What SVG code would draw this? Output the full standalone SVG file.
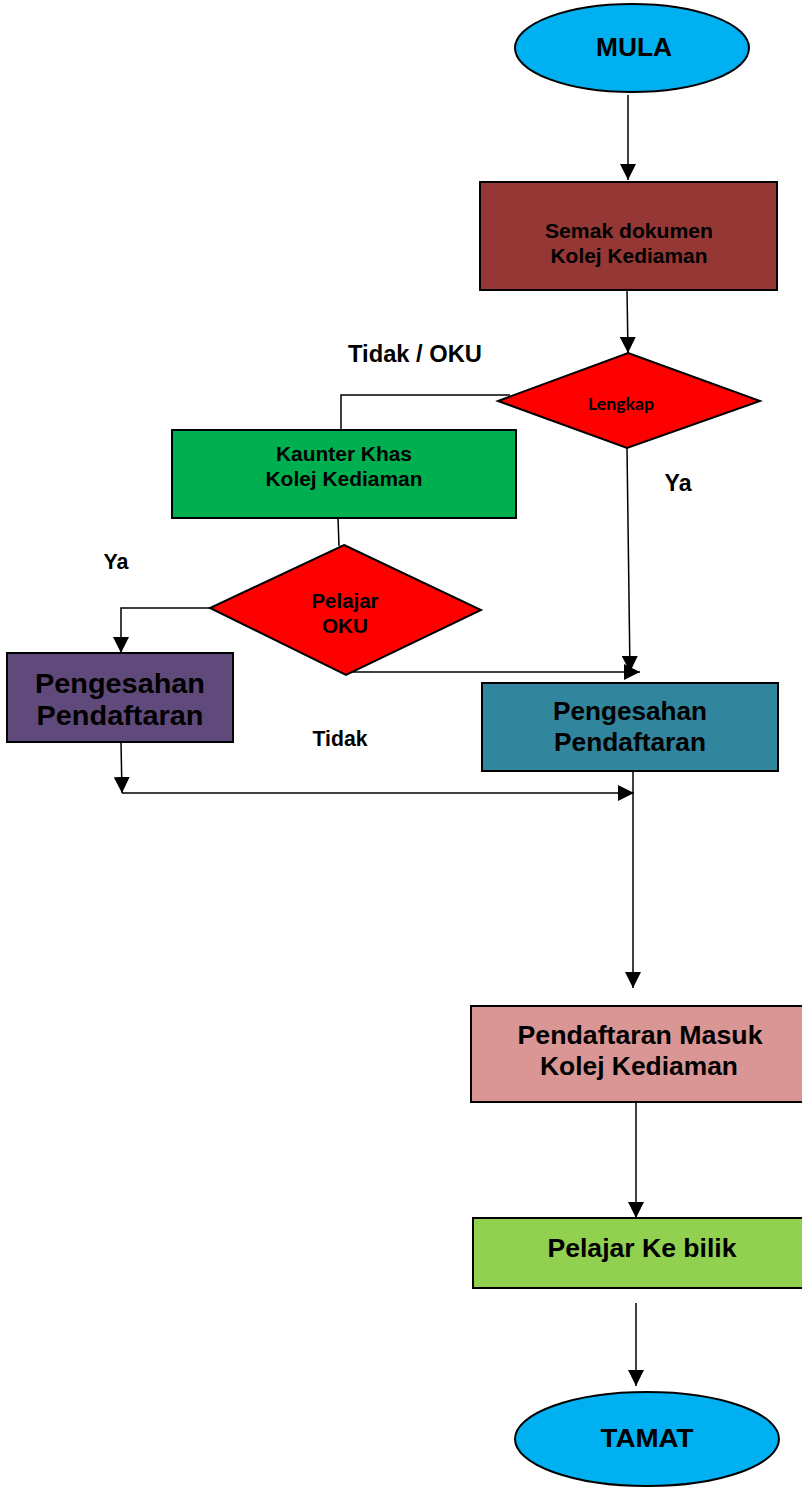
<svg xmlns="http://www.w3.org/2000/svg" width="802" height="1487" viewBox="0 0 802 1487">
<defs>
<marker id="ah" viewBox="0 0 10 10" refX="10" refY="5" markerWidth="16" markerHeight="16" markerUnits="userSpaceOnUse" orient="auto">
<path d="M0,0 L10,5 L0,10 Z" fill="#000"/>
</marker>
<style>
.s{stroke:#000;stroke-width:2}
.c{fill:none;stroke:#000;stroke-width:1.5}
.t{font-family:"Liberation Sans",Arial,sans-serif;font-weight:bold;text-anchor:middle;fill:#000}
.n{font-family:"Liberation Sans",Arial,sans-serif;font-weight:bold;text-anchor:middle;fill:#000}
.l{font-family:Lato,"Liberation Sans",sans-serif;font-weight:bold;text-anchor:middle;fill:#000}
</style>
</defs>
<rect width="802" height="1487" fill="#fff"/>
<g id="connectors">
<line class="c" x1="628" y1="95" x2="628" y2="180" marker-end="url(#ah)"/>
<line class="c" x1="627" y1="290" x2="628" y2="353" marker-end="url(#ah)"/>
<polyline class="c" points="510,395 341,395 341,430"/>
<line class="c" x1="627" y1="448" x2="630" y2="672" marker-end="url(#ah)"/>
<line class="c" x1="338" y1="518" x2="339" y2="546"/>
<polyline class="c" points="212,608 121,608 121,653" marker-end="url(#ah)"/>
<polyline class="c" points="350,672 640,672" marker-end="url(#ah)"/>
<line class="c" x1="121" y1="742" x2="122" y2="793" marker-end="url(#ah)"/>
<line class="c" x1="122" y1="793" x2="634" y2="793" marker-end="url(#ah)"/>
<line class="c" x1="633" y1="771" x2="633" y2="988" marker-end="url(#ah)"/>
<line class="c" x1="636" y1="1102" x2="636" y2="1218" marker-end="url(#ah)"/>
<line class="c" x1="636" y1="1303" x2="636" y2="1386" marker-end="url(#ah)"/>
</g>
<g id="labels">
<text class="n" x="415" y="362" font-size="24" textLength="134" lengthAdjust="spacingAndGlyphs">Tidak / OKU</text>
<text class="n" x="678" y="491" font-size="23" textLength="27" lengthAdjust="spacingAndGlyphs">Ya</text>
<text class="n" x="116" y="569" font-size="22" textLength="25" lengthAdjust="spacingAndGlyphs">Ya</text>
<text class="n" x="340" y="746" font-size="22" textLength="55" lengthAdjust="spacingAndGlyphs">Tidak</text>
</g>
<g id="mula">
<ellipse class="s" cx="632" cy="48" rx="117" ry="44" fill="#00b0f0"/>
<text class="t" x="634" y="56" font-size="25" textLength="76" lengthAdjust="spacingAndGlyphs">MULA</text>
</g>
<g id="semak">
<rect class="s" x="480" y="182" width="297" height="108" fill="#953735"/>
<text class="t" x="629" y="238" font-size="20" textLength="168" lengthAdjust="spacingAndGlyphs">Semak dokumen</text>
<text class="t" x="629" y="263" font-size="20" textLength="157" lengthAdjust="spacingAndGlyphs">Kolej Kediaman</text>
</g>
<g id="lengkap">
<polygon class="s" points="628,353 760,401 627,448 498,401" fill="#ff0000"/>
<text class="l" x="621" y="410" font-size="17" textLength="66" lengthAdjust="spacingAndGlyphs">Lengkap</text>
</g>
<g id="kaunter">
<rect class="s" x="172" y="430" width="344" height="88" fill="#00b050"/>
<text class="n" x="344" y="461" font-size="20" textLength="136" lengthAdjust="spacingAndGlyphs">Kaunter Khas</text>
<text class="n" x="344" y="486" font-size="20" textLength="157" lengthAdjust="spacingAndGlyphs">Kolej Kediaman</text>
</g>
<g id="pelajar-oku">
<polygon class="s" points="344,545 481,610 346,675 210,608" fill="#ff0000"/>
<text class="n" x="345" y="608" font-size="20" textLength="67" lengthAdjust="spacingAndGlyphs">Pelajar</text>
<text class="n" x="345" y="633" font-size="20" textLength="46" lengthAdjust="spacingAndGlyphs">OKU</text>
</g>
<g id="pengesahan-kiri">
<rect class="s" x="7" y="653" width="226" height="89" fill="#604a7b"/>
<text class="n" x="120" y="693" font-size="28" textLength="170" lengthAdjust="spacingAndGlyphs">Pengesahan</text>
<text class="n" x="120" y="725" font-size="28" textLength="167" lengthAdjust="spacingAndGlyphs">Pendaftaran</text>
</g>
<g id="pengesahan-kanan">
<rect class="s" x="482" y="683" width="296" height="88" fill="#31859c"/>
<text class="n" x="630" y="720" font-size="26" textLength="154" lengthAdjust="spacingAndGlyphs">Pengesahan</text>
<text class="n" x="630" y="751" font-size="26" textLength="152" lengthAdjust="spacingAndGlyphs">Pendaftaran</text>
</g>
<g id="pendaftaran-masuk">
<rect class="s" x="471" y="1006" width="336" height="96" fill="#d99694"/>
<text class="t" x="640" y="1044" font-size="25" textLength="245" lengthAdjust="spacingAndGlyphs">Pendaftaran Masuk</text>
<text class="t" x="639" y="1075" font-size="25" textLength="198" lengthAdjust="spacingAndGlyphs">Kolej Kediaman</text>
</g>
<g id="ke-bilik">
<rect class="s" x="473" y="1218" width="334" height="70" fill="#92d050"/>
<text class="t" x="642" y="1257" font-size="25" textLength="189" lengthAdjust="spacingAndGlyphs">Pelajar Ke bilik</text>
</g>
<g id="tamat">
<ellipse class="s" cx="647" cy="1439" rx="132" ry="47" fill="#00b0f0"/>
<text class="t" x="647" y="1447" font-size="25" textLength="93" lengthAdjust="spacingAndGlyphs">TAMAT</text>
</g>
</svg>
